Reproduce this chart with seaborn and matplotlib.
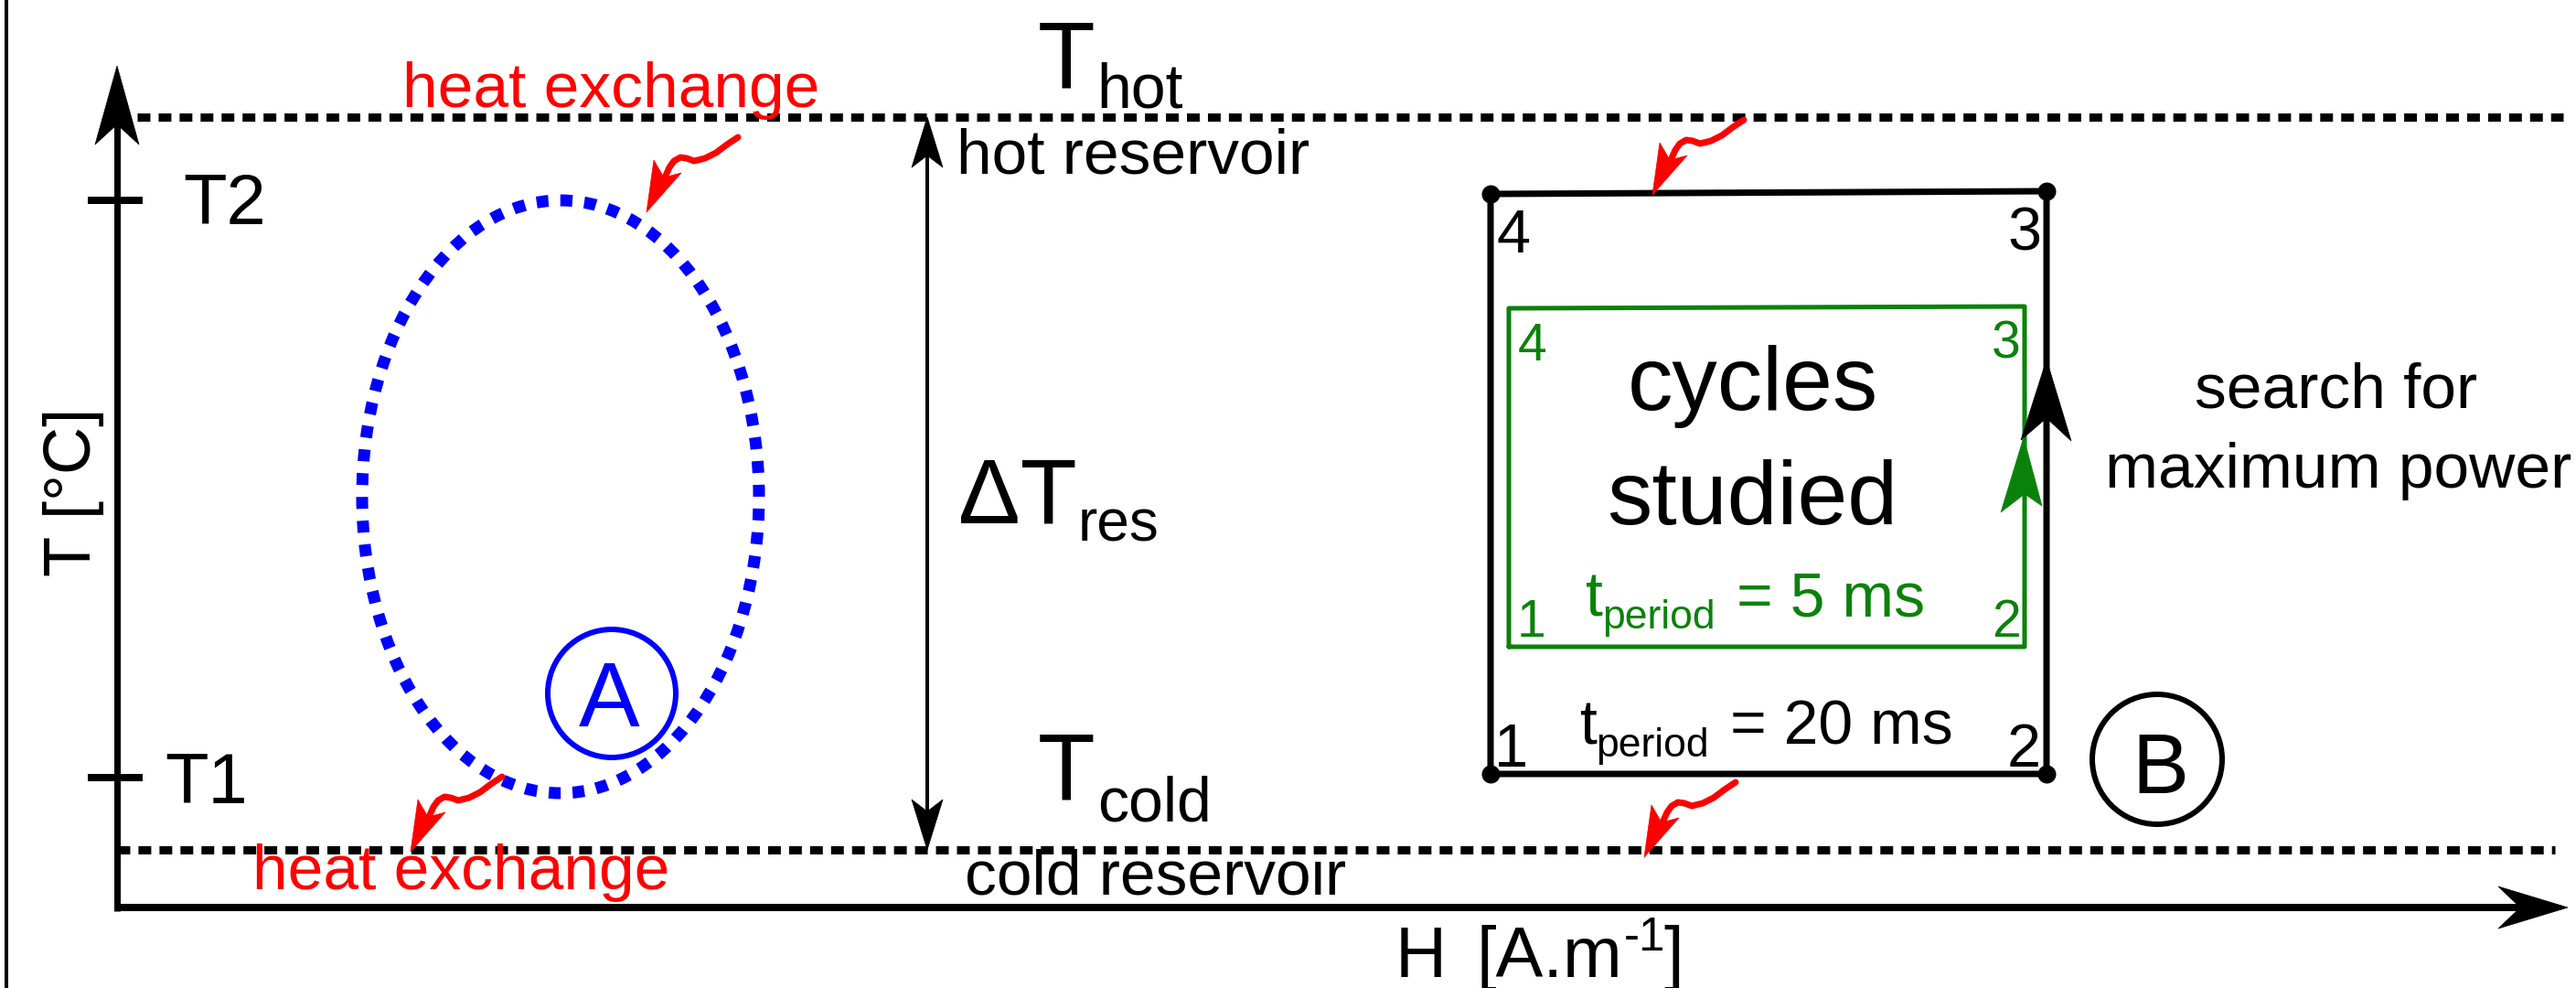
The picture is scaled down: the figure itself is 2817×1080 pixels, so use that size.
import matplotlib
matplotlib.use("Agg")
import matplotlib.pyplot as plt
from matplotlib.patches import Ellipse, Polygon
import numpy as np
import pandas as pd
import seaborn as sns

# ---------------- data (schematic units = pixels of the 2817x1080 canvas) ----
W, H_PX = 2817, 1080
axis_x0, axis_y0 = 128, 992          # origin of the H-T axes
y_axis_tip, x_axis_tip = 72, 2808

reservoir_T = [128, 929]              # hot / cold reservoir levels
reservoir_H_start = [150, 128]
reservoir_H_end = [2803, 2794]

level_names = ["T2", "T1"]
level_T = [219, 850]
level_label_x = [200, 180]
level_label_base = [245, 878]

# cycle A (dotted ellipse)
cycleA_center = (613, 543)
cycleA_size = (434, 648)

# cycle B (outer, t_period = 20 ms) corners 1,2,3,4 and back to 1
outer_H = [1630, 2238, 2238, 1630, 1630]
outer_T = [846, 846, 209, 212, 846]
# inner cycle (t_period = 5 ms)
inner_H = [1650, 2214, 2214, 1650, 1650]
inner_T = [707, 707, 335, 337, 707]

outer_num = ["1", "2", "3", "4"]
outer_num_x = [1634, 2195, 2195, 1636]
outer_num_y = [838, 838, 274, 276]
inner_num = ["1", "2", "3", "4"]
inner_num_x = [1659, 2178, 2178, 1660]
inner_num_y = [696, 696, 392, 394]

# red heat-exchange squiggle arrow tips
squiggle_tips = [(707, 232), (1807, 213), (449, 931), (1798, 937)]

BLUE = "#0000ff"
RED = "#ff0000"
GREEN = "#0a820a"

# ---------------- figure ---------------------------------------------------
sns.set_theme(style="white")
plt.rcParams["font.family"] = ["Liberation Sans", "DejaVu Sans"]
plt.rcParams["text.color"] = "black"

fig = plt.figure(figsize=(W / 100, H_PX / 100), dpi=100)
ax = fig.add_axes([0, 0, 1, 1])
ax.set_xlim(0, W)
ax.set_ylim(H_PX, 0)
ax.axis("off")

PX = 0.72  # points per pixel at dpi 100


def txt(x, y, s, size, color="black", ha="left", **kw):
    ax.text(x, y, s, fontsize=size, color=color, ha=ha, va="baseline", **kw)


def head(pts, color="black"):
    ax.add_patch(Polygon(pts, closed=True, facecolor=color, edgecolor=color,
                         lw=0.5, zorder=5))


# left frame line
ax.plot([7, 7], [0, H_PX], color="black", lw=4 * PX, solid_capstyle="butt")

# axes
ax.plot([axis_x0, axis_x0], [axis_y0 + 4, y_axis_tip + 40], color="black",
        lw=7 * PX, solid_capstyle="butt")
head([(axis_x0, y_axis_tip), (axis_x0 - 24, 158), (axis_x0, 136), (axis_x0 + 24, 158)])
ax.plot([axis_x0 - 3, x_axis_tip - 40], [axis_y0, axis_y0], color="black",
        lw=8 * PX, solid_capstyle="butt")
head([(x_axis_tip, axis_y0), (2732, axis_y0 - 23), (2756, axis_y0), (2732, axis_y0 + 23)])

# reservoir dashed lines
for T, x0, x1 in zip(reservoir_T, reservoir_H_start, reservoir_H_end):
    ax.plot([x0, x1], [T, T], color="black", lw=9 * PX,
            linestyle=(0, (1.55, 1.0)), dash_capstyle="butt")

# level ticks
for name, T, lx, lb in zip(level_names, level_T, level_label_x, level_label_base):
    ax.plot([96, 156], [T, T], color="black", lw=8 * PX, solid_capstyle="butt")
    txt(lx, lb, name, 56)

# axis titles
ax.text(99, 538, "T [°C]", fontsize=52, rotation=90, rotation_mode="anchor",
        ha="center", va="baseline", color="black")
txt(1526, 1068, "H", 56)
txt(1614, 1068, "[A.m", 56)
txt(1776, 1039, "-1", 37)
txt(1819, 1068, "]", 56)

# cycle A
ax.add_patch(Ellipse(cycleA_center, cycleA_size[0], cycleA_size[1], fill=False,
                     edgecolor=BLUE, lw=13 * PX, linestyle=(0, (1.0, 1.0))))
ax.add_patch(Ellipse((669, 758), 140, 140, fill=False, edgecolor=BLUE, lw=6 * PX))
ax.text(666, 794, "A", fontsize=72, color=BLUE, ha="center", va="baseline")

# heat exchange labels
txt(440, 117, "heat exchange", 50, RED)
txt(276, 972, "heat exchange", 50, RED)

# red squiggle arrows
tail_dx = [100, 88, 76, 64, 52, 44, 37, 30, 25, 21]
tail_dy = [-82, -74, -65, -59, -56, -59, -60, -56, -49, -40]
for tx, ty in squiggle_tips:
    ax.plot([tx + dx for dx in tail_dx], [ty + dy for dy in tail_dy], color=RED,
            lw=7 * PX, solid_capstyle="round", solid_joinstyle="round", zorder=4)
    head([(tx, ty), (tx + 8, ty - 57), (tx + 19, ty - 38), (tx + 38, ty - 43)], RED)

# reservoir double arrow
ax.plot([1014, 1014], [150, 905], color="black", lw=4 * PX, solid_capstyle="butt")
head([(1014, 128), (997, 183), (1014, 170), (1031, 183)])
head([(1014, 929), (997, 874), (1014, 887), (1031, 874)])

# reservoir texts
txt(1135, 97, "T", 74)
txt(1199, 118, "hot", 49)
txt(1046, 190, "hot reservoir", 50)
txt(1048, 572, "ΔT", 73)
txt(1179, 592, "res", 46)
txt(1135, 875, "T", 74)
txt(1200, 897, "cold", 49)
txt(1055, 977, "cold reservoir", 50)

# cycle B (outer and inner) drawn with seaborn
outer_df = pd.DataFrame({"H": outer_H, "T": outer_T, "order": range(len(outer_H))})
inner_df = pd.DataFrame({"H": inner_H, "T": inner_T, "order": range(len(inner_H))})
sns.lineplot(data=inner_df, x="H", y="T", sort=False, estimator=None, ax=ax,
             color=GREEN, lw=5 * PX, legend=False)
sns.lineplot(data=outer_df, x="H", y="T", sort=False, estimator=None, ax=ax,
             color="black", lw=7 * PX, legend=False)
sns.scatterplot(data=outer_df.iloc[:4], x="H", y="T", ax=ax, color="black",
                s=(20 * PX) ** 2, linewidth=0, legend=False, zorder=6)
ax.set_xlim(0, W)
ax.set_ylim(H_PX, 0)
ax.set_xlabel("")
ax.set_ylabel("")

for s, x, y in zip(outer_num, outer_num_x, outer_num_y):
    txt(x, y, s, 48)
for s, x, y in zip(inner_num, inner_num_x, inner_num_y):
    txt(x, y, s, 41, GREEN)

# direction arrows
head([(2238, 393), (2210, 481), (2238, 457), (2265, 482)])
head([(2213, 478), (2188, 560), (2214, 540), (2233, 553)], GREEN)

# texts inside cycle B
txt(1917, 448, "cycles", 71, ha="center")
txt(1916, 573, "studied", 71, ha="center")
txt(1734, 673, "t", 49, GREEN)
txt(1752, 687, "period", 32, GREEN)
txt(1899, 673, "= 5 ms", 49, GREEN)
txt(1728, 814, "t", 49)
txt(1745, 827, "period", 32)
txt(1892, 814, "= 20 ms", 49)

# search text
txt(2555, 446, "search for", 50, ha="center")
txt(2557, 533, "maximum power", 50, ha="center")

# B marker
ax.add_patch(Ellipse((2359, 830), 142, 142, fill=False, edgecolor="black", lw=6 * PX))
ax.text(2362, 867, "B", fontsize=67, ha="center", va="baseline", color="black")

fig.savefig("out.png", dpi=100)
